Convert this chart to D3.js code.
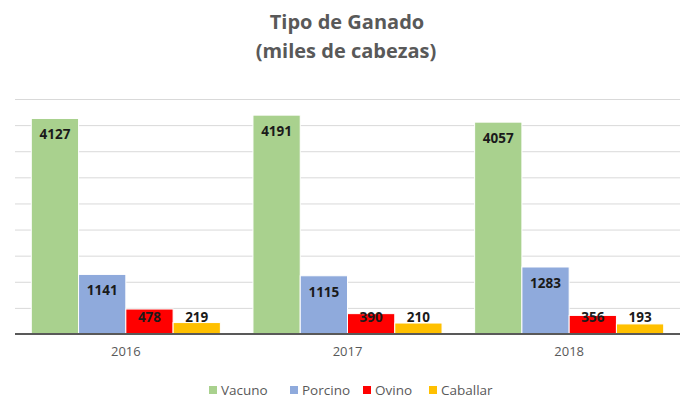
<!DOCTYPE html>
<html>
<head>
  <meta charset="utf-8">
  <title>Tipo de Ganado</title>
  <script src="https://cdn.jsdelivr.net/npm/d3@7"></script>
  <style>
    body { margin: 0; background: #fff; }
    text { font-family: "Open Sans", sans-serif; }
  </style>
</head>
<body>
<script>
var w = 688, h = 401;

var years = ["2016", "2017", "2018"];
var series = ["Vacuno", "Porcino", "Ovino", "Caballar"];
var vacuno = [4127, 4191, 4057];
var porcino = [1141, 1115, 1283];
var ovino = [478, 390, 356];
var caballar = [219, 210, 193];
var yTicks = [0, 500, 1000, 1500, 2000, 2500, 3000, 3500, 4000, 4500];

var colors = ["#a9d18e", "#8faadc", "#ff0000", "#ffc000"];
var values = [vacuno, porcino, ovino, caballar];

var plotLeft = 15, plotRight = 680, plotTop = 99, base = 334;

var svg = d3.select("body").append("svg")
  .attr("width", w)
  .attr("height", h);

// title
svg.append("text")
  .attr("x", 347).attr("y", 29)
  .attr("text-anchor", "middle")
  .attr("font-size", 20).attr("font-weight", "bold")
  .attr("fill", "#595959")
  .text("Tipo de Ganado");
svg.append("text")
  .attr("x", 346).attr("y", 58)
  .attr("text-anchor", "middle")
  .attr("font-size", 20).attr("font-weight", "bold")
  .attr("fill", "#595959")
  .text("(miles de cabezas)");

var x0 = d3.scaleBand()
  .domain(years)
  .range([plotLeft, plotRight])
  .paddingInner(0.147)
  .paddingOuter(0.0735);

var x1 = d3.scaleBand()
  .domain(series)
  .range([0, x0.bandwidth()]);

var y = d3.scaleLinear()
  .domain([0, 4500])
  .range([base, plotTop]);

// gridlines
svg.append("g")
  .attr("transform", "translate(" + plotLeft + ",0)")
  .call(d3.axisLeft(y).tickValues(yTicks).tickSize(-(plotRight - plotLeft)).tickFormat(""))
  .call(function (g) {
    g.select(".domain").remove();
    g.selectAll(".tick line").attr("stroke", "#d9d9d9").attr("stroke-width", 1);
  });

// bars
var rows = [];
years.forEach(function (yr, i) {
  series.forEach(function (s, j) {
    rows.push({ year: yr, serie: s, value: values[j][i], color: colors[j] });
  });
});

var bars = svg.append("g");
bars.selectAll("rect")
  .data(rows)
  .enter()
  .append("rect")
  .attr("x", function (d) { return x0(d.year) + x1(d.serie); })
  .attr("y", function (d) { return y(d.value); })
  .attr("width", x1.bandwidth())
  .attr("height", function (d) { return base - y(d.value); })
  .attr("fill", function (d) { return d.color; })
  .attr("stroke", "#fff")
  .attr("stroke-width", 1);

bars.selectAll("text")
  .data(rows)
  .enter()
  .append("text")
  .attr("x", function (d) { return x0(d.year) + x1(d.serie) + x1.bandwidth() / 2; })
  .attr("y", function (d) { return Math.min(y(d.value) + 16, base - 17) + 5; })
  .attr("text-anchor", "middle")
  .attr("font-size", 13.5).attr("font-weight", "bold")
  .attr("fill", "#1a1a1a")
  .text(function (d) { return d.value; });

// x axis
var xAxis = svg.append("g")
  .attr("transform", "translate(0," + base + ")")
  .call(d3.axisBottom(x0).tickSize(0).tickPadding(13));
xAxis.select(".domain").attr("stroke", "#595959").attr("stroke-width", 2)
  .attr("d", "M" + plotLeft + ",0H" + plotRight);
xAxis.selectAll("text")
  .attr("font-family", "Open Sans, sans-serif")
  .attr("font-size", 13).attr("fill", "#595959");

// legend
var legX = [209, 290, 363, 429];
var legend = svg.append("g");
series.forEach(function (s, j) {
  legend.append("rect")
    .attr("x", legX[j]).attr("y", 386)
    .attr("width", 8).attr("height", 8)
    .attr("fill", colors[j]);
  legend.append("text")
    .attr("x", legX[j] + 12).attr("y", 395)
    .attr("font-size", 13.5).attr("fill", "#595959")
    .text(s);
});
</script>
</body>
</html>
